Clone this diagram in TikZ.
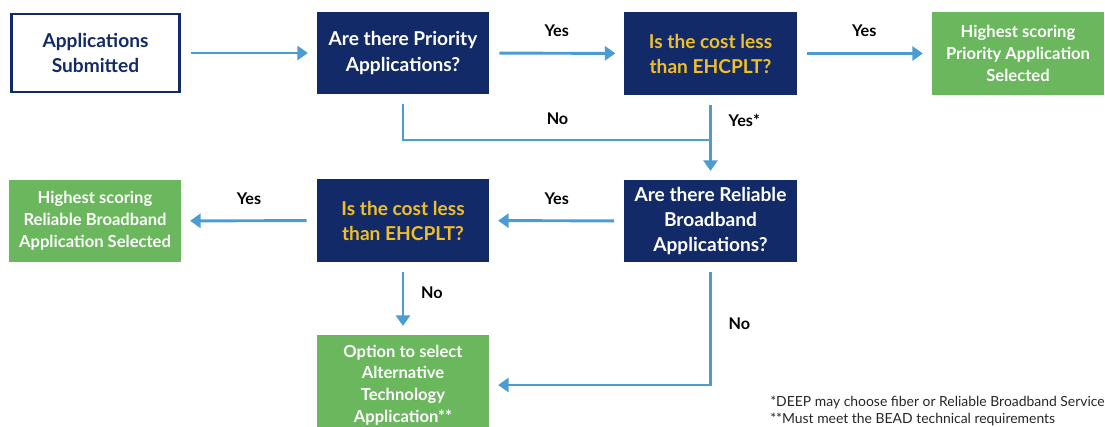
\documentclass[tikz,border=0pt]{standalone}
\usepackage{fontspec}
\setmainfont{Lato}
\usetikzlibrary{arrows.meta, positioning}

\definecolor{deepnavy}{RGB}{19,42,104}
\definecolor{costgold}{RGB}{240,190,40}
\definecolor{okgreen}{RGB}{107,183,93}
\definecolor{flowblue}{RGB}{74,156,211}

\begin{document}
\begin{tikzpicture}[
    x=0.025cm, y=-0.025cm,
    box/.style={rectangle, minimum width=4.3cm, minimum height=2.05cm, align=center, inner sep=2pt, font=\bfseries\fontsize{13.6}{17.8}\selectfont},
    question/.style={box, fill=deepnavy, text=white},
    costq/.style={box, fill=deepnavy, text=costgold},
    result/.style={box, fill=okgreen, text=white, font=\bfseries\fontsize{11.8}{15.5}\selectfont},
    start/.style={box, draw=deepnavy, line width=2pt, text=deepnavy, minimum width=4.2cm, minimum height=1.95cm},
    line/.style={flowblue, line width=2.1pt},
    arrow/.style={line, -{Triangle[length=7.5pt, width=10pt]}, shorten >=0.22cm, shorten <=0.25cm},
    lbl/.style={font=\bfseries\fontsize{11.5}{13}\selectfont, text=black},
]
\useasboundingbox (0,0) rectangle (1105,427);

% top row
\node[start] (sub) at (95.5,53) {Applications\\Submitted};
\node[question] (prio) at (403,53) {Are there Priority\\Applications?};
\node[costq] (cost1) at (710.5,53.5) {Is the cost less\\than EHCPLT?};
\node[result] (topwin) at (1018,53.5) {Highest scoring\\Priority Application\\Selected};

% second row
\node[result] (rbwin) at (95,221) {Highest scoring\\Reliable Broadband\\Application Selected};
\node[costq] (cost2) at (403,220.5) {Is the cost less\\than EHCPLT?};
\node[question] (rel) at (710.5,221) {Are there Reliable\\Broadband\\Applications?};

% fallback
\node[result, minimum height=2.5cm] (alt) at (403,385) {Option to select\\Alternative\\Technology\\Application**};

\coordinate (join) at (712,140);

\draw[arrow] (sub) -- (prio);
\draw[arrow] (prio) -- node[lbl, above=0.26cm] {Yes} (cost1);
\draw[arrow] (cost1) -- node[lbl, above=0.26cm] {Yes} (topwin);
\draw[line, shorten <=0.25cm] (prio.south) |- node[lbl, pos=0.75, above=0.24cm] {No} (join);
\draw[arrow] (cost1.south) -- node[lbl, pos=0.3, right=0.3cm] {Yes*} (rel.north);
\draw[arrow] (rel) -- node[lbl, above=0.26cm] {Yes} (cost2);
\draw[arrow] (cost2) -- node[lbl, above=0.26cm] {Yes} (rbwin);
\draw[arrow] (cost2.south) -- node[lbl, pos=0.42, right=0.3cm] {No} (alt.north);
\draw[arrow] (rel.south) |- node[lbl, pos=0.25, right=0.3cm] {No} (alt.east);

% footnotes
\node[anchor=north west, align=left, inner sep=0pt, text=black!85, font=\fontsize{9.9}{11.8}\selectfont] (notes) at (770,396)
  {*DEEP may choose fiber or Reliable Broadband Service\\**Must meet the BEAD technical requirements};

\end{tikzpicture}
\end{document}
